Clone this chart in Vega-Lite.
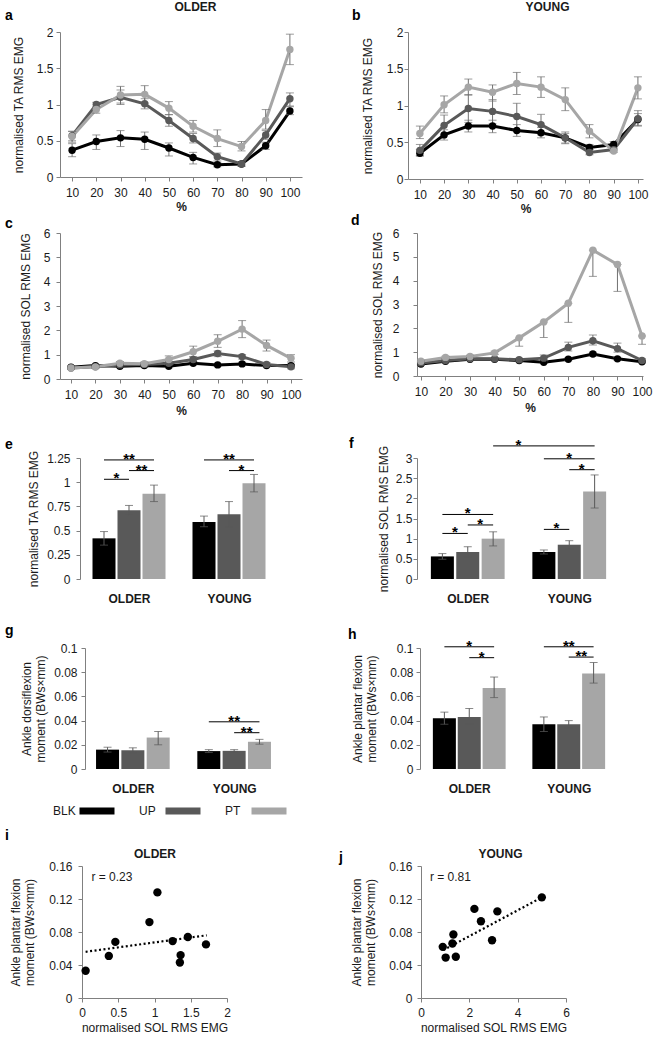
{
  "$schema": "https://vega.github.io/schema/vega-lite/v6.json",
  "padding": {"left": 4, "top": 0, "right": 2, "bottom": 2},
  "config": {
    "view": {"stroke": null},
    "font": "Liberation Sans",
    "axis": {"labelFont": "Liberation Sans", "labelFontSize": 12, "labelColor": "#1a1a1a", "titleFont": "Liberation Sans", "titleFontSize": 12, "titleFontWeight": "normal", "titleColor": "#1a1a1a", "domainColor": "#808080", "tickColor": "#808080", "tickSize": 4, "grid": false, "labelFlush": false, "labelOverlap": false, "titleLineHeight": 14},
    "title": {"font": "Liberation Sans", "fontSize": 14, "fontWeight": "bold", "anchor": "start", "frame": "group", "offset": 0, "baseline": "bottom", "color": "#000000"},
    "text": {"font": "Liberation Sans"}
  },
  "datasets": {
    "lineA": [
      {"pct": 10, "cond": "BLK", "v": 0.37, "lo": 0.28, "hi": 0.46},
      {"pct": 20, "cond": "BLK", "v": 0.49, "lo": 0.38, "hi": 0.58},
      {"pct": 30, "cond": "BLK", "v": 0.54, "lo": 0.42, "hi": 0.64},
      {"pct": 40, "cond": "BLK", "v": 0.52, "lo": 0.38, "hi": 0.62},
      {"pct": 50, "cond": "BLK", "v": 0.40, "lo": 0.29, "hi": 0.47},
      {"pct": 60, "cond": "BLK", "v": 0.27, "lo": 0.18, "hi": 0.34},
      {"pct": 70, "cond": "BLK", "v": 0.17, "lo": 0.14, "hi": 0.20},
      {"pct": 80, "cond": "BLK", "v": 0.18, "lo": 0.15, "hi": 0.20},
      {"pct": 90, "cond": "BLK", "v": 0.43, "lo": 0.38, "hi": 0.48},
      {"pct": 100, "cond": "BLK", "v": 0.91, "lo": 0.86, "hi": 0.97},
      {"pct": 10, "cond": "UP", "v": 0.57, "lo": 0.50, "hi": 0.63},
      {"pct": 20, "cond": "UP", "v": 1.00, "lo": 0.96, "hi": 1.03},
      {"pct": 30, "cond": "UP", "v": 1.10, "lo": 1.00, "hi": 1.20},
      {"pct": 40, "cond": "UP", "v": 1.01, "lo": 0.94, "hi": 1.08},
      {"pct": 50, "cond": "UP", "v": 0.78, "lo": 0.70, "hi": 0.86},
      {"pct": 60, "cond": "UP", "v": 0.53, "lo": 0.47, "hi": 0.60},
      {"pct": 70, "cond": "UP", "v": 0.28, "lo": 0.22, "hi": 0.33},
      {"pct": 80, "cond": "UP", "v": 0.18, "lo": 0.15, "hi": 0.21},
      {"pct": 90, "cond": "UP", "v": 0.58, "lo": 0.52, "hi": 0.64},
      {"pct": 100, "cond": "UP", "v": 1.08, "lo": 0.98, "hi": 1.16},
      {"pct": 10, "cond": "PT", "v": 0.56, "lo": 0.48, "hi": 0.63},
      {"pct": 20, "cond": "PT", "v": 0.93, "lo": 0.88, "hi": 0.97},
      {"pct": 30, "cond": "PT", "v": 1.13, "lo": 1.02, "hi": 1.25},
      {"pct": 40, "cond": "PT", "v": 1.14, "lo": 1.02, "hi": 1.26},
      {"pct": 50, "cond": "PT", "v": 0.95, "lo": 0.86, "hi": 1.04},
      {"pct": 60, "cond": "PT", "v": 0.70, "lo": 0.62, "hi": 0.78},
      {"pct": 70, "cond": "PT", "v": 0.53, "lo": 0.42, "hi": 0.65},
      {"pct": 80, "cond": "PT", "v": 0.42, "lo": 0.36, "hi": 0.49},
      {"pct": 90, "cond": "PT", "v": 0.78, "lo": 0.66, "hi": 0.93},
      {"pct": 100, "cond": "PT", "v": 1.76, "lo": 1.55, "hi": 1.97}
    ],
    "lineB": [
      {"pct": 10, "cond": "BLK", "v": 0.35, "lo": 0.31, "hi": 0.40},
      {"pct": 20, "cond": "BLK", "v": 0.60, "lo": 0.53, "hi": 0.67},
      {"pct": 30, "cond": "BLK", "v": 0.72, "lo": 0.64, "hi": 0.80},
      {"pct": 40, "cond": "BLK", "v": 0.72, "lo": 0.63, "hi": 0.80},
      {"pct": 50, "cond": "BLK", "v": 0.66, "lo": 0.58, "hi": 0.74},
      {"pct": 60, "cond": "BLK", "v": 0.63, "lo": 0.56, "hi": 0.70},
      {"pct": 70, "cond": "BLK", "v": 0.56, "lo": 0.49, "hi": 0.62},
      {"pct": 80, "cond": "BLK", "v": 0.43, "lo": 0.40, "hi": 0.47},
      {"pct": 90, "cond": "BLK", "v": 0.47, "lo": 0.44, "hi": 0.51},
      {"pct": 100, "cond": "BLK", "v": 0.81, "lo": 0.73, "hi": 0.89},
      {"pct": 10, "cond": "UP", "v": 0.39, "lo": 0.32, "hi": 0.47},
      {"pct": 20, "cond": "UP", "v": 0.73, "lo": 0.60, "hi": 0.87},
      {"pct": 30, "cond": "UP", "v": 0.96, "lo": 0.77, "hi": 1.15},
      {"pct": 40, "cond": "UP", "v": 0.92, "lo": 0.75, "hi": 1.08},
      {"pct": 50, "cond": "UP", "v": 0.85, "lo": 0.67, "hi": 1.03},
      {"pct": 60, "cond": "UP", "v": 0.74, "lo": 0.60, "hi": 0.88},
      {"pct": 70, "cond": "UP", "v": 0.56, "lo": 0.48, "hi": 0.64},
      {"pct": 80, "cond": "UP", "v": 0.36, "lo": 0.33, "hi": 0.40},
      {"pct": 90, "cond": "UP", "v": 0.40, "lo": 0.38, "hi": 0.44},
      {"pct": 100, "cond": "UP", "v": 0.82, "lo": 0.72, "hi": 0.93},
      {"pct": 10, "cond": "PT", "v": 0.62, "lo": 0.55, "hi": 0.72},
      {"pct": 20, "cond": "PT", "v": 1.01, "lo": 0.90, "hi": 1.13},
      {"pct": 30, "cond": "PT", "v": 1.25, "lo": 1.14, "hi": 1.36},
      {"pct": 40, "cond": "PT", "v": 1.18, "lo": 1.06, "hi": 1.28},
      {"pct": 50, "cond": "PT", "v": 1.30, "lo": 1.15, "hi": 1.45},
      {"pct": 60, "cond": "PT", "v": 1.25, "lo": 1.11, "hi": 1.39},
      {"pct": 70, "cond": "PT", "v": 1.08, "lo": 0.93, "hi": 1.24},
      {"pct": 80, "cond": "PT", "v": 0.65, "lo": 0.56, "hi": 0.74},
      {"pct": 90, "cond": "PT", "v": 0.38, "lo": 0.36, "hi": 0.41},
      {"pct": 100, "cond": "PT", "v": 1.24, "lo": 1.09, "hi": 1.39}
    ],
    "lineC": [
      {"pct": 10, "cond": "BLK", "v": 0.48, "lo": 0.44, "hi": 0.52},
      {"pct": 20, "cond": "BLK", "v": 0.55, "lo": 0.50, "hi": 0.60},
      {"pct": 30, "cond": "BLK", "v": 0.52, "lo": 0.47, "hi": 0.57},
      {"pct": 40, "cond": "BLK", "v": 0.55, "lo": 0.50, "hi": 0.60},
      {"pct": 50, "cond": "BLK", "v": 0.52, "lo": 0.46, "hi": 0.58},
      {"pct": 60, "cond": "BLK", "v": 0.65, "lo": 0.58, "hi": 0.72},
      {"pct": 70, "cond": "BLK", "v": 0.58, "lo": 0.52, "hi": 0.64},
      {"pct": 80, "cond": "BLK", "v": 0.62, "lo": 0.55, "hi": 0.69},
      {"pct": 90, "cond": "BLK", "v": 0.55, "lo": 0.50, "hi": 0.60},
      {"pct": 100, "cond": "BLK", "v": 0.55, "lo": 0.49, "hi": 0.61},
      {"pct": 10, "cond": "UP", "v": 0.45, "lo": 0.41, "hi": 0.49},
      {"pct": 20, "cond": "UP", "v": 0.50, "lo": 0.45, "hi": 0.55},
      {"pct": 30, "cond": "UP", "v": 0.58, "lo": 0.52, "hi": 0.64},
      {"pct": 40, "cond": "UP", "v": 0.60, "lo": 0.54, "hi": 0.66},
      {"pct": 50, "cond": "UP", "v": 0.65, "lo": 0.57, "hi": 0.73},
      {"pct": 60, "cond": "UP", "v": 0.80, "lo": 0.70, "hi": 0.90},
      {"pct": 70, "cond": "UP", "v": 1.05, "lo": 0.92, "hi": 1.15},
      {"pct": 80, "cond": "UP", "v": 0.92, "lo": 0.82, "hi": 1.00},
      {"pct": 90, "cond": "UP", "v": 0.60, "lo": 0.52, "hi": 0.68},
      {"pct": 100, "cond": "UP", "v": 0.50, "lo": 0.42, "hi": 0.58},
      {"pct": 10, "cond": "PT", "v": 0.45, "lo": 0.40, "hi": 0.50},
      {"pct": 20, "cond": "PT", "v": 0.50, "lo": 0.44, "hi": 0.56},
      {"pct": 30, "cond": "PT", "v": 0.65, "lo": 0.58, "hi": 0.72},
      {"pct": 40, "cond": "PT", "v": 0.63, "lo": 0.56, "hi": 0.70},
      {"pct": 50, "cond": "PT", "v": 0.80, "lo": 0.68, "hi": 0.95},
      {"pct": 60, "cond": "PT", "v": 1.12, "lo": 0.92, "hi": 1.35},
      {"pct": 70, "cond": "PT", "v": 1.55, "lo": 1.30, "hi": 1.82},
      {"pct": 80, "cond": "PT", "v": 2.05, "lo": 1.70, "hi": 2.40},
      {"pct": 90, "cond": "PT", "v": 1.38, "lo": 1.15, "hi": 1.60},
      {"pct": 100, "cond": "PT", "v": 0.85, "lo": 0.70, "hi": 1.00}
    ],
    "lineD": [
      {"pct": 10, "cond": "BLK", "v": 0.50, "lo": 0.46, "hi": 0.54},
      {"pct": 20, "cond": "BLK", "v": 0.62, "lo": 0.58, "hi": 0.66},
      {"pct": 30, "cond": "BLK", "v": 0.70, "lo": 0.66, "hi": 0.74},
      {"pct": 40, "cond": "BLK", "v": 0.70, "lo": 0.66, "hi": 0.74},
      {"pct": 50, "cond": "BLK", "v": 0.65, "lo": 0.60, "hi": 0.70},
      {"pct": 60, "cond": "BLK", "v": 0.58, "lo": 0.53, "hi": 0.63},
      {"pct": 70, "cond": "BLK", "v": 0.70, "lo": 0.64, "hi": 0.76},
      {"pct": 80, "cond": "BLK", "v": 0.92, "lo": 0.84, "hi": 1.00},
      {"pct": 90, "cond": "BLK", "v": 0.72, "lo": 0.66, "hi": 0.78},
      {"pct": 100, "cond": "BLK", "v": 0.60, "lo": 0.55, "hi": 0.65},
      {"pct": 10, "cond": "UP", "v": 0.55, "lo": 0.50, "hi": 0.60},
      {"pct": 20, "cond": "UP", "v": 0.65, "lo": 0.60, "hi": 0.70},
      {"pct": 30, "cond": "UP", "v": 0.72, "lo": 0.67, "hi": 0.77},
      {"pct": 40, "cond": "UP", "v": 0.72, "lo": 0.67, "hi": 0.77},
      {"pct": 50, "cond": "UP", "v": 0.68, "lo": 0.62, "hi": 0.74},
      {"pct": 60, "cond": "UP", "v": 0.75, "lo": 0.70, "hi": 0.88},
      {"pct": 70, "cond": "UP", "v": 1.20, "lo": 1.05, "hi": 1.42},
      {"pct": 80, "cond": "UP", "v": 1.48, "lo": 1.30, "hi": 1.72},
      {"pct": 90, "cond": "UP", "v": 1.15, "lo": 1.00, "hi": 1.38},
      {"pct": 100, "cond": "UP", "v": 0.65, "lo": 0.60, "hi": 0.72},
      {"pct": 10, "cond": "PT", "v": 0.62, "lo": 0.58, "hi": 0.66},
      {"pct": 20, "cond": "PT", "v": 0.78, "lo": 0.73, "hi": 0.83},
      {"pct": 30, "cond": "PT", "v": 0.82, "lo": 0.77, "hi": 0.87},
      {"pct": 40, "cond": "PT", "v": 0.97, "lo": 0.90, "hi": 1.04},
      {"pct": 50, "cond": "PT", "v": 1.60, "lo": 1.25, "hi": 1.60},
      {"pct": 60, "cond": "PT", "v": 2.27, "lo": 1.62, "hi": 2.27},
      {"pct": 70, "cond": "PT", "v": 3.05, "lo": 2.25, "hi": 3.05},
      {"pct": 80, "cond": "PT", "v": 5.28, "lo": 4.18, "hi": 5.28},
      {"pct": 90, "cond": "PT", "v": 4.68, "lo": 3.55, "hi": 4.68},
      {"pct": 100, "cond": "PT", "v": 1.68, "lo": 1.33, "hi": 1.68}
    ],
    "barE": [
      {"bar": "OLDER BLK", "cond": "BLK", "v": 0.42, "lo": 0.35, "hi": 0.49},
      {"bar": "OLDER UP", "cond": "UP", "v": 0.71, "lo": 0.66, "hi": 0.76},
      {"bar": "OLDER PT", "cond": "PT", "v": 0.88, "lo": 0.80, "hi": 0.97},
      {"bar": "YOUNG BLK", "cond": "BLK", "v": 0.59, "lo": 0.54, "hi": 0.65},
      {"bar": "YOUNG UP", "cond": "UP", "v": 0.67, "lo": 0.54, "hi": 0.80},
      {"bar": "YOUNG PT", "cond": "PT", "v": 0.99, "lo": 0.90, "hi": 1.08}
    ],
    "barF": [
      {"bar": "OLDER BLK", "cond": "BLK", "v": 0.56, "lo": 0.49, "hi": 0.63},
      {"bar": "OLDER UP", "cond": "UP", "v": 0.67, "lo": 0.55, "hi": 0.80},
      {"bar": "OLDER PT", "cond": "PT", "v": 1.00, "lo": 0.82, "hi": 1.17},
      {"bar": "YOUNG BLK", "cond": "BLK", "v": 0.67, "lo": 0.62, "hi": 0.72},
      {"bar": "YOUNG UP", "cond": "UP", "v": 0.85, "lo": 0.75, "hi": 0.95},
      {"bar": "YOUNG PT", "cond": "PT", "v": 2.17, "lo": 1.76, "hi": 2.58}
    ],
    "barG": [
      {"bar": "OLDER BLK", "cond": "BLK", "v": 0.016, "lo": 0.014, "hi": 0.018},
      {"bar": "OLDER UP", "cond": "UP", "v": 0.0155, "lo": 0.0135, "hi": 0.0175},
      {"bar": "OLDER PT", "cond": "PT", "v": 0.026, "lo": 0.020, "hi": 0.031},
      {"bar": "YOUNG BLK", "cond": "BLK", "v": 0.0148, "lo": 0.0136, "hi": 0.016},
      {"bar": "YOUNG UP", "cond": "UP", "v": 0.015, "lo": 0.014, "hi": 0.016},
      {"bar": "YOUNG PT", "cond": "PT", "v": 0.0225, "lo": 0.0205, "hi": 0.0245}
    ],
    "barH": [
      {"bar": "OLDER BLK", "cond": "BLK", "v": 0.042, "lo": 0.037, "hi": 0.047},
      {"bar": "OLDER UP", "cond": "UP", "v": 0.043, "lo": 0.037, "hi": 0.050},
      {"bar": "OLDER PT", "cond": "PT", "v": 0.067, "lo": 0.059, "hi": 0.076},
      {"bar": "YOUNG BLK", "cond": "BLK", "v": 0.037, "lo": 0.031, "hi": 0.043},
      {"bar": "YOUNG UP", "cond": "UP", "v": 0.037, "lo": 0.034, "hi": 0.040},
      {"bar": "YOUNG PT", "cond": "PT", "v": 0.079, "lo": 0.071, "hi": 0.088}
    ],
    "sigE": [
      {"from": "OLDER BLK", "to": "OLDER PT", "mid": "OLDER UP", "y": 1.23, "label": "**"},
      {"from": "OLDER UP", "to": "OLDER PT", "y": 1.12, "label": "**"},
      {"from": "OLDER BLK", "to": "OLDER UP", "y": 1.03, "label": "*"},
      {"from": "YOUNG BLK", "to": "YOUNG PT", "mid": "YOUNG UP", "y": 1.23, "label": "**"},
      {"from": "YOUNG UP", "to": "YOUNG PT", "y": 1.12, "label": "*"}
    ],
    "sigF": [
      {"from": "OLDER BLK", "to": "OLDER PT", "mid": "OLDER UP", "y": 1.6, "label": "*"},
      {"from": "OLDER UP", "to": "OLDER PT", "y": 1.34, "label": "*"},
      {"from": "OLDER BLK", "to": "OLDER UP", "y": 1.13, "label": "*"},
      {"from": "YOUNG BLK", "to": "YOUNG UP", "y": 1.23, "label": "*"},
      {"from": "YOUNG UP", "to": "YOUNG PT", "y": 2.71, "label": "*"},
      {"from": "YOUNG BLK", "to": "YOUNG PT", "mid": "YOUNG UP", "y": 2.98, "label": "*"},
      {"from": "OLDER PT", "to": "YOUNG PT", "mid": "gap", "y": 3.3, "label": "*"}
    ],
    "sigG": [
      {"from": "YOUNG BLK", "to": "YOUNG PT", "mid": "YOUNG UP", "y": 0.039, "label": "**"},
      {"from": "YOUNG UP", "to": "YOUNG PT", "y": 0.030, "label": "**"}
    ],
    "sigH": [
      {"from": "OLDER BLK", "to": "OLDER PT", "mid": "OLDER UP", "y": 0.101, "label": "*"},
      {"from": "OLDER UP", "to": "OLDER PT", "y": 0.092, "label": "*"},
      {"from": "YOUNG BLK", "to": "YOUNG PT", "mid": "YOUNG UP", "y": 0.101, "label": "**"},
      {"from": "YOUNG UP", "to": "YOUNG PT", "y": 0.0925, "label": "**"}
    ],
    "scatI": [
      {"x": 0.05, "y": 0.033}, {"x": 0.37, "y": 0.051}, {"x": 0.46, "y": 0.068},
      {"x": 0.93, "y": 0.092}, {"x": 1.04, "y": 0.128}, {"x": 1.25, "y": 0.069},
      {"x": 1.36, "y": 0.052}, {"x": 1.35, "y": 0.043}, {"x": 1.46, "y": 0.074},
      {"x": 1.71, "y": 0.065}
    ],
    "trendI": [{"x": 0.05, "y": 0.056}, {"x": 1.72, "y": 0.076}],
    "rI": [{"x": 0.13, "y": 0.147, "label": "r = 0.23"}],
    "scatJ": [
      {"x": 0.90, "y": 0.062}, {"x": 1.02, "y": 0.049}, {"x": 1.30, "y": 0.066},
      {"x": 1.34, "y": 0.077}, {"x": 1.44, "y": 0.050}, {"x": 2.21, "y": 0.108},
      {"x": 2.48, "y": 0.093}, {"x": 2.94, "y": 0.070}, {"x": 3.16, "y": 0.105},
      {"x": 5.00, "y": 0.122}
    ],
    "trendJ": [{"x": 0.92, "y": 0.058}, {"x": 5.0, "y": 0.122}],
    "rJ": [{"x": 0.37, "y": 0.147, "label": "r = 0.81"}],
    "legend": [{"cond": "BLK"}, {"cond": "UP"}, {"cond": "PT"}],
    "none": []
  },
  "columns": 1,
  "align": "none",
  "spacing": 20,
  "concat": [
    {
      "columns": 1,
      "align": "none",
      "spacing": 0,
      "concat": [
        {
          "spacing": 0,
          "hconcat": [
            {"width": 1, "height": 1, "data": {"name": "none"}, "mark": "point"},
            {
              "width": 242, "height": 145,
              "title": {"text": "a", "dx": -55, "dy": 27},
              "data": {"name": "lineA"},
              "resolve": {"axis": {"x": "independent", "y": "independent"}},
              "layer": [
                {"mark": {"type": "line", "strokeWidth": 3},
                 "encoding": {
                   "x": {"field": "pct", "type": "ordinal", "scale": {"type": "point", "padding": 0.5}, "axis": {"title": "%", "titleFontWeight": "bold", "labelAngle": 0, "labelPadding": 6, "titlePadding": 3}},
                   "y": {"field": "v", "type": "quantitative", "scale": {"domain": [0, 2], "nice": false}, "axis": {"title": "normalised TA RMS EMG", "values": [0, 0.5, 1, 1.5, 2], "format": ".2~f", "labelPadding": 3, "titlePadding": 11}},
                   "color": {"field": "cond", "type": "nominal", "scale": {"domain": ["BLK", "UP", "PT"], "range": ["#000000", "#595959", "#a6a6a6"]}, "legend": null}
                 }},
                {"mark": {"type": "rule", "color": "#707070"},
                 "encoding": {
                   "x": {"field": "pct", "type": "ordinal", "scale": {"type": "point", "padding": 0.5}, "axis": null},
                   "y": {"field": "lo", "type": "quantitative", "scale": {"domain": [0, 2], "nice": false}, "axis": null},
                   "y2": {"field": "hi"}
                 }},
                {"mark": {"type": "tick", "orient": "horizontal", "size": 8, "thickness": 1, "color": "#707070"},
                 "encoding": {
                   "x": {"field": "pct", "type": "ordinal", "scale": {"type": "point", "padding": 0.5}, "axis": null},
                   "y": {"field": "lo", "type": "quantitative", "scale": {"domain": [0, 2], "nice": false}, "axis": null}
                 }},
                {"mark": {"type": "tick", "orient": "horizontal", "size": 8, "thickness": 1, "color": "#707070"},
                 "encoding": {
                   "x": {"field": "pct", "type": "ordinal", "scale": {"type": "point", "padding": 0.5}, "axis": null},
                   "y": {"field": "hi", "type": "quantitative", "scale": {"domain": [0, 2], "nice": false}, "axis": null}
                 }},
                {"mark": {"type": "circle", "size": 55, "opacity": 1},
                 "encoding": {
                   "x": {"field": "pct", "type": "ordinal", "scale": {"type": "point", "padding": 0.5}, "axis": {"orient": "top", "title": "OLDER", "titleFontWeight": "bold", "domain": false, "ticks": false, "labels": false, "titlePadding": 19, "titleX": 135}},
                   "y": {"field": "v", "type": "quantitative", "scale": {"domain": [0, 2], "nice": false}, "axis": null},
                   "color": {"field": "cond", "type": "nominal", "scale": {"domain": ["BLK", "UP", "PT"], "range": ["#000000", "#595959", "#a6a6a6"]}, "legend": null}
                 }}
              ]
            },
            {"width": 50, "height": 1, "data": {"name": "none"}, "mark": "point"},
            {
              "width": 235, "height": 147,
              "title": {"text": "b", "dx": -56, "dy": 27},
              "data": {"name": "lineB"},
              "resolve": {"axis": {"x": "independent", "y": "independent"}},
              "layer": [
                {"mark": {"type": "line", "strokeWidth": 3},
                 "encoding": {
                   "x": {"field": "pct", "type": "ordinal", "scale": {"type": "point", "padding": 0.35, "align": 0.7}, "axis": {"title": "%", "titleFontWeight": "bold", "labelAngle": 0, "labelPadding": 6, "titlePadding": 3}},
                   "y": {"field": "v", "type": "quantitative", "scale": {"domain": [0, 2], "nice": false}, "axis": {"title": "normalised TA RMS EMG", "values": [0, 0.5, 1, 1.5, 2], "format": ".2~f", "labelPadding": 1, "titlePadding": 12}},
                   "color": {"field": "cond", "type": "nominal", "scale": {"domain": ["BLK", "UP", "PT"], "range": ["#000000", "#595959", "#a6a6a6"]}, "legend": null}
                 }},
                {"mark": {"type": "rule", "color": "#707070"},
                 "encoding": {
                   "x": {"field": "pct", "type": "ordinal", "scale": {"type": "point", "padding": 0.35, "align": 0.7}, "axis": null},
                   "y": {"field": "lo", "type": "quantitative", "scale": {"domain": [0, 2], "nice": false}, "axis": null},
                   "y2": {"field": "hi"}
                 }},
                {"mark": {"type": "tick", "orient": "horizontal", "size": 8, "thickness": 1, "color": "#707070"},
                 "encoding": {
                   "x": {"field": "pct", "type": "ordinal", "scale": {"type": "point", "padding": 0.35, "align": 0.7}, "axis": null},
                   "y": {"field": "lo", "type": "quantitative", "scale": {"domain": [0, 2], "nice": false}, "axis": null}
                 }},
                {"mark": {"type": "tick", "orient": "horizontal", "size": 8, "thickness": 1, "color": "#707070"},
                 "encoding": {
                   "x": {"field": "pct", "type": "ordinal", "scale": {"type": "point", "padding": 0.35, "align": 0.7}, "axis": null},
                   "y": {"field": "hi", "type": "quantitative", "scale": {"domain": [0, 2], "nice": false}, "axis": null}
                 }},
                {"mark": {"type": "circle", "size": 55, "opacity": 1},
                 "encoding": {
                   "x": {"field": "pct", "type": "ordinal", "scale": {"type": "point", "padding": 0.35, "align": 0.7}, "axis": {"orient": "top", "title": "YOUNG", "titleFontWeight": "bold", "domain": false, "ticks": false, "labels": false, "titlePadding": 19, "titleX": 139}},
                   "y": {"field": "v", "type": "quantitative", "scale": {"domain": [0, 2], "nice": false}, "axis": null},
                   "color": {"field": "cond", "type": "nominal", "scale": {"domain": ["BLK", "UP", "PT"], "range": ["#000000", "#595959", "#a6a6a6"]}, "legend": null}
                 }}
              ]
            }
          ]
        },
        {
          "spacing": 0,
          "hconcat": [
            {"width": 1, "height": 1, "data": {"name": "none"}, "mark": "point"},
            {
              "width": 242, "height": 146,
              "title": {"text": "c", "dx": -55, "dy": 8},
              "data": {"name": "lineC"},
              "resolve": {"axis": {"x": "independent", "y": "independent"}},
              "layer": [
                {"mark": {"type": "line", "strokeWidth": 3},
                 "encoding": {
                   "x": {"field": "pct", "type": "ordinal", "scale": {"type": "point", "padding": 0.45}, "axis": {"title": "%", "titleFontWeight": "bold", "labelAngle": 0, "labelPadding": 6, "titlePadding": 5}},
                   "y": {"field": "v", "type": "quantitative", "scale": {"domain": [0, 6], "nice": false}, "axis": {"title": "normalised SOL RMS EMG", "values": [0, 1, 2, 3, 4, 5, 6], "format": ".2~f", "labelPadding": 6, "titlePadding": 11}},
                   "color": {"field": "cond", "type": "nominal", "scale": {"domain": ["BLK", "UP", "PT"], "range": ["#000000", "#595959", "#a6a6a6"]}, "legend": null}
                 }},
                {"mark": {"type": "rule", "color": "#707070"},
                 "encoding": {
                   "x": {"field": "pct", "type": "ordinal", "scale": {"type": "point", "padding": 0.45}, "axis": null},
                   "y": {"field": "lo", "type": "quantitative", "scale": {"domain": [0, 6], "nice": false}, "axis": null},
                   "y2": {"field": "hi"}
                 }},
                {"mark": {"type": "tick", "orient": "horizontal", "size": 8, "thickness": 1, "color": "#707070"},
                 "encoding": {
                   "x": {"field": "pct", "type": "ordinal", "scale": {"type": "point", "padding": 0.45}, "axis": null},
                   "y": {"field": "lo", "type": "quantitative", "scale": {"domain": [0, 6], "nice": false}, "axis": null}
                 }},
                {"mark": {"type": "tick", "orient": "horizontal", "size": 8, "thickness": 1, "color": "#707070"},
                 "encoding": {
                   "x": {"field": "pct", "type": "ordinal", "scale": {"type": "point", "padding": 0.45}, "axis": null},
                   "y": {"field": "hi", "type": "quantitative", "scale": {"domain": [0, 6], "nice": false}, "axis": null}
                 }},
                {"mark": {"type": "circle", "size": 55, "opacity": 1},
                 "encoding": {
                   "x": {"field": "pct", "type": "ordinal", "scale": {"type": "point", "padding": 0.45}, "axis": null},
                   "y": {"field": "v", "type": "quantitative", "scale": {"domain": [0, 6], "nice": false}, "axis": null},
                   "color": {"field": "cond", "type": "nominal", "scale": {"domain": ["BLK", "UP", "PT"], "range": ["#000000", "#595959", "#a6a6a6"]}, "legend": null}
                 }}
              ]
            },
            {"width": 49, "height": 1, "data": {"name": "none"}, "mark": "point"},
            {
              "width": 226, "height": 143,
              "title": {"text": "d", "dx": -66, "dy": 5},
              "data": {"name": "lineD"},
              "resolve": {"axis": {"x": "independent", "y": "independent"}},
              "layer": [
                {"mark": {"type": "line", "strokeWidth": 3},
                 "encoding": {
                   "x": {"field": "pct", "type": "ordinal", "scale": {"type": "point", "padding": 0.1, "align": 0.8}, "axis": {"title": "%", "titleFontWeight": "bold", "labelAngle": 0, "labelPadding": 6, "titlePadding": 5}},
                   "y": {"field": "v", "type": "quantitative", "scale": {"domain": [0, 6], "nice": false}, "axis": {"title": "normalised SOL RMS EMG", "values": [0, 1, 2, 3, 4, 5, 6], "format": ".2~f", "labelPadding": 14, "titlePadding": 8}},
                   "color": {"field": "cond", "type": "nominal", "scale": {"domain": ["BLK", "UP", "PT"], "range": ["#000000", "#595959", "#a6a6a6"]}, "legend": null}
                 }},
                {"mark": {"type": "rule", "color": "#707070"},
                 "encoding": {
                   "x": {"field": "pct", "type": "ordinal", "scale": {"type": "point", "padding": 0.1, "align": 0.8}, "axis": null},
                   "y": {"field": "lo", "type": "quantitative", "scale": {"domain": [0, 6], "nice": false}, "axis": null},
                   "y2": {"field": "hi"}
                 }},
                {"mark": {"type": "tick", "orient": "horizontal", "size": 8, "thickness": 1, "color": "#707070"},
                 "encoding": {
                   "x": {"field": "pct", "type": "ordinal", "scale": {"type": "point", "padding": 0.1, "align": 0.8}, "axis": null},
                   "y": {"field": "lo", "type": "quantitative", "scale": {"domain": [0, 6], "nice": false}, "axis": null}
                 }},
                {"mark": {"type": "tick", "orient": "horizontal", "size": 8, "thickness": 1, "color": "#707070"},
                 "encoding": {
                   "x": {"field": "pct", "type": "ordinal", "scale": {"type": "point", "padding": 0.1, "align": 0.8}, "axis": null},
                   "y": {"field": "hi", "type": "quantitative", "scale": {"domain": [0, 6], "nice": false}, "axis": null}
                 }},
                {"mark": {"type": "circle", "size": 55, "opacity": 1},
                 "encoding": {
                   "x": {"field": "pct", "type": "ordinal", "scale": {"type": "point", "padding": 0.1, "align": 0.8}, "axis": null},
                   "y": {"field": "v", "type": "quantitative", "scale": {"domain": [0, 6], "nice": false}, "axis": null},
                   "color": {"field": "cond", "type": "nominal", "scale": {"domain": ["BLK", "UP", "PT"], "range": ["#000000", "#595959", "#a6a6a6"]}, "legend": null}
                 }}
              ]
            }
          ]
        }
      ]
    },
    {
      "spacing": 0,
      "hconcat": [
        {"width": 1, "height": 1, "data": {"name": "none"}, "mark": "point"},
        {
          "width": 198, "height": 121,
          "title": {"text": "e", "dx": -75, "dy": 6},
          "resolve": {"axis": {"x": "independent", "y": "independent"}},
          "layer": [
            {"data": {"name": "barE"}, "mark": {"type": "bar", "size": 23},
             "encoding": {
               "x": {"field": "bar", "type": "nominal", "scale": {"type": "point", "domain": ["OLDER BLK", "OLDER UP", "OLDER PT", "gap", "YOUNG BLK", "YOUNG UP", "YOUNG PT"], "padding": 0.96}, "axis": {"values": ["OLDER UP", "YOUNG UP"], "labelExpr": "split(datum.value, ' ')[0]", "title": null, "domain": false, "ticks": false, "labelFontWeight": "bold", "labelPadding": 14, "labelAngle": 0}},
               "y": {"field": "v", "type": "quantitative", "scale": {"domain": [0, 1.25], "nice": false}, "axis": {"title": "normalised TA RMS EMG", "values": [0, 0.25, 0.5, 0.75, 1, 1.25], "format": ".2~f", "labelPadding": 6, "titlePadding": 6}},
               "color": {"field": "cond", "type": "nominal", "scale": {"domain": ["BLK", "UP", "PT"], "range": ["#000000", "#595959", "#a6a6a6"]}, "legend": null}
             }},
            {"data": {"name": "barE"}, "mark": {"type": "rule", "color": "#595959"},
             "encoding": {
               "x": {"field": "bar", "type": "nominal", "scale": {"type": "point", "domain": ["OLDER BLK", "OLDER UP", "OLDER PT", "gap", "YOUNG BLK", "YOUNG UP", "YOUNG PT"], "padding": 0.96}, "axis": null},
               "y": {"field": "lo", "type": "quantitative", "scale": {"domain": [0, 1.25], "nice": false}, "axis": null},
               "y2": {"field": "hi"}
             }},
            {"data": {"name": "barE"}, "mark": {"type": "tick", "orient": "horizontal", "size": 8, "thickness": 1, "color": "#595959"},
             "encoding": {
               "x": {"field": "bar", "type": "nominal", "scale": {"type": "point", "domain": ["OLDER BLK", "OLDER UP", "OLDER PT", "gap", "YOUNG BLK", "YOUNG UP", "YOUNG PT"], "padding": 0.96}, "axis": null},
               "y": {"field": "lo", "type": "quantitative", "scale": {"domain": [0, 1.25], "nice": false}, "axis": null}
             }},
            {"data": {"name": "barE"}, "mark": {"type": "tick", "orient": "horizontal", "size": 8, "thickness": 1, "color": "#595959"},
             "encoding": {
               "x": {"field": "bar", "type": "nominal", "scale": {"type": "point", "domain": ["OLDER BLK", "OLDER UP", "OLDER PT", "gap", "YOUNG BLK", "YOUNG UP", "YOUNG PT"], "padding": 0.96}, "axis": null},
               "y": {"field": "hi", "type": "quantitative", "scale": {"domain": [0, 1.25], "nice": false}, "axis": null}
             }},
            {"data": {"name": "sigE"}, "mark": {"type": "rule", "color": "#000000", "strokeWidth": 1},
             "encoding": {
               "x": {"field": "from", "type": "nominal", "scale": {"type": "point", "domain": ["OLDER BLK", "OLDER UP", "OLDER PT", "gap", "YOUNG BLK", "YOUNG UP", "YOUNG PT"], "padding": 0.96}, "axis": null},
               "x2": {"field": "to"},
               "y": {"field": "y", "type": "quantitative", "scale": {"domain": [0, 1.25], "nice": false}, "axis": null}
             }},
            {"data": {"name": "sigE"}, "transform": [{"filter": "isValid(datum.mid)"}],
             "mark": {"type": "text", "fontSize": 15, "fontWeight": "bold", "baseline": "alphabetic", "dy": 4},
             "encoding": {
               "x": {"field": "mid", "type": "nominal", "scale": {"type": "point", "domain": ["OLDER BLK", "OLDER UP", "OLDER PT", "gap", "YOUNG BLK", "YOUNG UP", "YOUNG PT"], "padding": 0.96}, "axis": null},
               "y": {"field": "y", "type": "quantitative", "scale": {"domain": [0, 1.25], "nice": false}, "axis": null},
               "text": {"field": "label"}
             }},
            {"data": {"name": "sigE"}, "transform": [{"filter": "!isValid(datum.mid)"}],
             "mark": {"type": "text", "fontSize": 15, "fontWeight": "bold", "baseline": "alphabetic", "dy": 4, "dx": 12.5},
             "encoding": {
               "x": {"field": "from", "type": "nominal", "scale": {"type": "point", "domain": ["OLDER BLK", "OLDER UP", "OLDER PT", "gap", "YOUNG BLK", "YOUNG UP", "YOUNG PT"], "padding": 0.96}, "axis": null},
               "y": {"field": "y", "type": "quantitative", "scale": {"domain": [0, 1.25], "nice": false}, "axis": null},
               "text": {"field": "label"}
             }}
          ]
        },
        {"width": 71, "height": 1, "data": {"name": "none"}, "mark": "point"},
        {
          "width": 203, "height": 121,
          "title": {"text": "f", "dx": -68, "dy": 17},
          "resolve": {"axis": {"x": "independent", "y": "independent"}},
          "layer": [
            {"data": {"name": "barF"}, "mark": {"type": "bar", "size": 23},
             "encoding": {
               "x": {"field": "bar", "type": "nominal", "scale": {"type": "point", "domain": ["OLDER BLK", "OLDER UP", "OLDER PT", "gap", "YOUNG BLK", "YOUNG UP", "YOUNG PT"], "padding": 1.06}, "axis": {"values": ["OLDER UP", "YOUNG UP"], "labelExpr": "split(datum.value, ' ')[0]", "title": null, "domain": false, "ticks": false, "labelFontWeight": "bold", "labelPadding": 14, "labelAngle": 0}},
               "y": {"field": "v", "type": "quantitative", "scale": {"domain": [0, 3], "nice": false}, "axis": {"title": "normalised SOL RMS EMG", "values": [0, 0.5, 1, 1.5, 2, 2.5, 3], "format": ".2~f", "labelPadding": 1, "titlePadding": 5}},
               "color": {"field": "cond", "type": "nominal", "scale": {"domain": ["BLK", "UP", "PT"], "range": ["#000000", "#595959", "#a6a6a6"]}, "legend": null}
             }},
            {"data": {"name": "barF"}, "mark": {"type": "rule", "color": "#595959"},
             "encoding": {
               "x": {"field": "bar", "type": "nominal", "scale": {"type": "point", "domain": ["OLDER BLK", "OLDER UP", "OLDER PT", "gap", "YOUNG BLK", "YOUNG UP", "YOUNG PT"], "padding": 1.06}, "axis": null},
               "y": {"field": "lo", "type": "quantitative", "scale": {"domain": [0, 3], "nice": false}, "axis": null},
               "y2": {"field": "hi"}
             }},
            {"data": {"name": "barF"}, "mark": {"type": "tick", "orient": "horizontal", "size": 8, "thickness": 1, "color": "#595959"},
             "encoding": {
               "x": {"field": "bar", "type": "nominal", "scale": {"type": "point", "domain": ["OLDER BLK", "OLDER UP", "OLDER PT", "gap", "YOUNG BLK", "YOUNG UP", "YOUNG PT"], "padding": 1.06}, "axis": null},
               "y": {"field": "lo", "type": "quantitative", "scale": {"domain": [0, 3], "nice": false}, "axis": null}
             }},
            {"data": {"name": "barF"}, "mark": {"type": "tick", "orient": "horizontal", "size": 8, "thickness": 1, "color": "#595959"},
             "encoding": {
               "x": {"field": "bar", "type": "nominal", "scale": {"type": "point", "domain": ["OLDER BLK", "OLDER UP", "OLDER PT", "gap", "YOUNG BLK", "YOUNG UP", "YOUNG PT"], "padding": 1.06}, "axis": null},
               "y": {"field": "hi", "type": "quantitative", "scale": {"domain": [0, 3], "nice": false}, "axis": null}
             }},
            {"data": {"name": "sigF"}, "mark": {"type": "rule", "color": "#000000", "strokeWidth": 1},
             "encoding": {
               "x": {"field": "from", "type": "nominal", "scale": {"type": "point", "domain": ["OLDER BLK", "OLDER UP", "OLDER PT", "gap", "YOUNG BLK", "YOUNG UP", "YOUNG PT"], "padding": 1.06}, "axis": null},
               "x2": {"field": "to"},
               "y": {"field": "y", "type": "quantitative", "scale": {"domain": [0, 3], "nice": false}, "axis": null}
             }},
            {"data": {"name": "sigF"}, "transform": [{"filter": "isValid(datum.mid)"}],
             "mark": {"type": "text", "fontSize": 15, "fontWeight": "bold", "baseline": "alphabetic", "dy": 4},
             "encoding": {
               "x": {"field": "mid", "type": "nominal", "scale": {"type": "point", "domain": ["OLDER BLK", "OLDER UP", "OLDER PT", "gap", "YOUNG BLK", "YOUNG UP", "YOUNG PT"], "padding": 1.06}, "axis": null},
               "y": {"field": "y", "type": "quantitative", "scale": {"domain": [0, 3], "nice": false}, "axis": null},
               "text": {"field": "label"}
             }},
            {"data": {"name": "sigF"}, "transform": [{"filter": "!isValid(datum.mid)"}],
             "mark": {"type": "text", "fontSize": 15, "fontWeight": "bold", "baseline": "alphabetic", "dy": 4, "dx": 12.5},
             "encoding": {
               "x": {"field": "from", "type": "nominal", "scale": {"type": "point", "domain": ["OLDER BLK", "OLDER UP", "OLDER PT", "gap", "YOUNG BLK", "YOUNG UP", "YOUNG PT"], "padding": 1.06}, "axis": null},
               "y": {"field": "y", "type": "quantitative", "scale": {"domain": [0, 3], "nice": false}, "axis": null},
               "text": {"field": "label"}
             }}
          ]
        }
      ]
    },
    {
      "columns": 1,
      "align": "none",
      "spacing": 11,
      "concat": [
        {
          "spacing": 0,
          "hconcat": [
            {"width": 1, "height": 1, "data": {"name": "none"}, "mark": "point"},
            {
              "width": 197, "height": 121,
              "title": {"text": "g", "dx": -80, "dy": 0},
              "resolve": {"axis": {"x": "independent", "y": "independent"}},
              "layer": [
                {"data": {"name": "barG"}, "mark": {"type": "bar", "size": 23},
                 "encoding": {
                   "x": {"field": "bar", "type": "nominal", "scale": {"type": "point", "domain": ["OLDER BLK", "OLDER UP", "OLDER PT", "gap", "YOUNG BLK", "YOUNG UP", "YOUNG PT"], "padding": 0.89}, "axis": {"values": ["OLDER UP", "YOUNG UP"], "labelExpr": "split(datum.value, ' ')[0]", "title": null, "domain": false, "ticks": false, "labelFontWeight": "bold", "labelPadding": 14, "labelAngle": 0}},
                   "y": {"field": "v", "type": "quantitative", "scale": {"domain": [0, 0.1], "nice": false}, "axis": {"title": ["Ankle dorsiflexion", "moment (BWs×mm)"], "values": [0, 0.02, 0.04, 0.06, 0.08, 0.1], "format": ".2~f", "labelPadding": 4, "titlePadding": 6}},
                   "color": {"field": "cond", "type": "nominal", "scale": {"domain": ["BLK", "UP", "PT"], "range": ["#000000", "#595959", "#a6a6a6"]}, "legend": null}
                 }},
                {"data": {"name": "barG"}, "mark": {"type": "rule", "color": "#595959"},
                 "encoding": {
                   "x": {"field": "bar", "type": "nominal", "scale": {"type": "point", "domain": ["OLDER BLK", "OLDER UP", "OLDER PT", "gap", "YOUNG BLK", "YOUNG UP", "YOUNG PT"], "padding": 0.89}, "axis": null},
                   "y": {"field": "lo", "type": "quantitative", "scale": {"domain": [0, 0.1], "nice": false}, "axis": null},
                   "y2": {"field": "hi"}
                 }},
                {"data": {"name": "barG"}, "mark": {"type": "tick", "orient": "horizontal", "size": 8, "thickness": 1, "color": "#595959"},
                 "encoding": {
                   "x": {"field": "bar", "type": "nominal", "scale": {"type": "point", "domain": ["OLDER BLK", "OLDER UP", "OLDER PT", "gap", "YOUNG BLK", "YOUNG UP", "YOUNG PT"], "padding": 0.89}, "axis": null},
                   "y": {"field": "lo", "type": "quantitative", "scale": {"domain": [0, 0.1], "nice": false}, "axis": null}
                 }},
                {"data": {"name": "barG"}, "mark": {"type": "tick", "orient": "horizontal", "size": 8, "thickness": 1, "color": "#595959"},
                 "encoding": {
                   "x": {"field": "bar", "type": "nominal", "scale": {"type": "point", "domain": ["OLDER BLK", "OLDER UP", "OLDER PT", "gap", "YOUNG BLK", "YOUNG UP", "YOUNG PT"], "padding": 0.89}, "axis": null},
                   "y": {"field": "hi", "type": "quantitative", "scale": {"domain": [0, 0.1], "nice": false}, "axis": null}
                 }},
                {"data": {"name": "sigG"}, "mark": {"type": "rule", "color": "#000000", "strokeWidth": 1},
                 "encoding": {
                   "x": {"field": "from", "type": "nominal", "scale": {"type": "point", "domain": ["OLDER BLK", "OLDER UP", "OLDER PT", "gap", "YOUNG BLK", "YOUNG UP", "YOUNG PT"], "padding": 0.89}, "axis": null},
                   "x2": {"field": "to"},
                   "y": {"field": "y", "type": "quantitative", "scale": {"domain": [0, 0.1], "nice": false}, "axis": null}
                 }},
                {"data": {"name": "sigG"}, "transform": [{"filter": "isValid(datum.mid)"}],
                 "mark": {"type": "text", "fontSize": 15, "fontWeight": "bold", "baseline": "alphabetic", "dy": 4},
                 "encoding": {
                   "x": {"field": "mid", "type": "nominal", "scale": {"type": "point", "domain": ["OLDER BLK", "OLDER UP", "OLDER PT", "gap", "YOUNG BLK", "YOUNG UP", "YOUNG PT"], "padding": 0.89}, "axis": null},
                   "y": {"field": "y", "type": "quantitative", "scale": {"domain": [0, 0.1], "nice": false}, "axis": null},
                   "text": {"field": "label"}
                 }},
                {"data": {"name": "sigG"}, "transform": [{"filter": "!isValid(datum.mid)"}],
                 "mark": {"type": "text", "fontSize": 15, "fontWeight": "bold", "baseline": "alphabetic", "dy": 4, "dx": 12.5},
                 "encoding": {
                   "x": {"field": "from", "type": "nominal", "scale": {"type": "point", "domain": ["OLDER BLK", "OLDER UP", "OLDER PT", "gap", "YOUNG BLK", "YOUNG UP", "YOUNG PT"], "padding": 0.89}, "axis": null},
                   "y": {"field": "y", "type": "quantitative", "scale": {"domain": [0, 0.1], "nice": false}, "axis": null},
                   "text": {"field": "label"}
                 }}
              ]
            },
            {"width": 66, "height": 1, "data": {"name": "none"}, "mark": "point"},
            {
              "width": 198, "height": 121,
              "title": {"text": "h", "dx": -72, "dy": 7},
              "resolve": {"axis": {"x": "independent", "y": "independent"}},
              "layer": [
                {"data": {"name": "barH"}, "mark": {"type": "bar", "size": 23},
                 "encoding": {
                   "x": {"field": "bar", "type": "nominal", "scale": {"type": "point", "domain": ["OLDER BLK", "OLDER UP", "OLDER PT", "gap", "YOUNG BLK", "YOUNG UP", "YOUNG PT"], "padding": 0.98}, "axis": {"values": ["OLDER UP", "YOUNG UP"], "labelExpr": "split(datum.value, ' ')[0]", "title": null, "domain": false, "ticks": false, "labelFontWeight": "bold", "labelPadding": 14, "labelAngle": 0}},
                   "y": {"field": "v", "type": "quantitative", "scale": {"domain": [0, 0.1], "nice": false}, "axis": {"title": ["Ankle plantar flexion", "moment (BWs×mm)"], "values": [0, 0.02, 0.04, 0.06, 0.08, 0.1], "format": ".2~f", "labelPadding": 3, "titlePadding": 11}},
                   "color": {"field": "cond", "type": "nominal", "scale": {"domain": ["BLK", "UP", "PT"], "range": ["#000000", "#595959", "#a6a6a6"]}, "legend": null}
                 }},
                {"data": {"name": "barH"}, "mark": {"type": "rule", "color": "#595959"},
                 "encoding": {
                   "x": {"field": "bar", "type": "nominal", "scale": {"type": "point", "domain": ["OLDER BLK", "OLDER UP", "OLDER PT", "gap", "YOUNG BLK", "YOUNG UP", "YOUNG PT"], "padding": 0.98}, "axis": null},
                   "y": {"field": "lo", "type": "quantitative", "scale": {"domain": [0, 0.1], "nice": false}, "axis": null},
                   "y2": {"field": "hi"}
                 }},
                {"data": {"name": "barH"}, "mark": {"type": "tick", "orient": "horizontal", "size": 8, "thickness": 1, "color": "#595959"},
                 "encoding": {
                   "x": {"field": "bar", "type": "nominal", "scale": {"type": "point", "domain": ["OLDER BLK", "OLDER UP", "OLDER PT", "gap", "YOUNG BLK", "YOUNG UP", "YOUNG PT"], "padding": 0.98}, "axis": null},
                   "y": {"field": "lo", "type": "quantitative", "scale": {"domain": [0, 0.1], "nice": false}, "axis": null}
                 }},
                {"data": {"name": "barH"}, "mark": {"type": "tick", "orient": "horizontal", "size": 8, "thickness": 1, "color": "#595959"},
                 "encoding": {
                   "x": {"field": "bar", "type": "nominal", "scale": {"type": "point", "domain": ["OLDER BLK", "OLDER UP", "OLDER PT", "gap", "YOUNG BLK", "YOUNG UP", "YOUNG PT"], "padding": 0.98}, "axis": null},
                   "y": {"field": "hi", "type": "quantitative", "scale": {"domain": [0, 0.1], "nice": false}, "axis": null}
                 }},
                {"data": {"name": "sigH"}, "mark": {"type": "rule", "color": "#000000", "strokeWidth": 1},
                 "encoding": {
                   "x": {"field": "from", "type": "nominal", "scale": {"type": "point", "domain": ["OLDER BLK", "OLDER UP", "OLDER PT", "gap", "YOUNG BLK", "YOUNG UP", "YOUNG PT"], "padding": 0.98}, "axis": null},
                   "x2": {"field": "to"},
                   "y": {"field": "y", "type": "quantitative", "scale": {"domain": [0, 0.1], "nice": false}, "axis": null}
                 }},
                {"data": {"name": "sigH"}, "transform": [{"filter": "isValid(datum.mid)"}],
                 "mark": {"type": "text", "fontSize": 15, "fontWeight": "bold", "baseline": "alphabetic", "dy": 4},
                 "encoding": {
                   "x": {"field": "mid", "type": "nominal", "scale": {"type": "point", "domain": ["OLDER BLK", "OLDER UP", "OLDER PT", "gap", "YOUNG BLK", "YOUNG UP", "YOUNG PT"], "padding": 0.98}, "axis": null},
                   "y": {"field": "y", "type": "quantitative", "scale": {"domain": [0, 0.1], "nice": false}, "axis": null},
                   "text": {"field": "label"}
                 }},
                {"data": {"name": "sigH"}, "transform": [{"filter": "!isValid(datum.mid)"}],
                 "mark": {"type": "text", "fontSize": 15, "fontWeight": "bold", "baseline": "alphabetic", "dy": 4, "dx": 12.5},
                 "encoding": {
                   "x": {"field": "from", "type": "nominal", "scale": {"type": "point", "domain": ["OLDER BLK", "OLDER UP", "OLDER PT", "gap", "YOUNG BLK", "YOUNG UP", "YOUNG PT"], "padding": 0.98}, "axis": null},
                   "y": {"field": "y", "type": "quantitative", "scale": {"domain": [0, 0.1], "nice": false}, "axis": null},
                   "text": {"field": "label"}
                 }}
              ]
            }
          ]
        },
        {
          "columns": 1,
          "align": "none",
          "spacing": 12,
          "concat": [
            {
              "spacing": 0,
              "hconcat": [
                {"width": 1, "height": 1, "data": {"name": "none"}, "mark": "point"},
                {
                  "width": 268, "height": 10,
                  "data": {"name": "legend"},
                  "layer": [
                    {"mark": {"type": "text", "align": "left", "baseline": "middle", "fontSize": 12, "color": "#1a1a1a"},
                     "encoding": {
                       "x": {"field": "cond", "type": "nominal", "scale": {"type": "point", "domain": ["BLK", "UP", "PT"], "padding": 0.558}, "axis": null},
                       "text": {"field": "cond"}
                     }},
                    {"mark": {"type": "point", "shape": "M-1,-0.2H1V0.2H-1Z", "size": 1225, "filled": true, "opacity": 1, "xOffset": 44, "strokeWidth": 0},
                     "encoding": {
                       "x": {"field": "cond", "type": "nominal", "scale": {"type": "point", "domain": ["BLK", "UP", "PT"], "padding": 0.558}, "axis": null},
                       "color": {"field": "cond", "type": "nominal", "scale": {"domain": ["BLK", "UP", "PT"], "range": ["#000000", "#595959", "#a6a6a6"]}, "legend": null}
                     }}
                  ]
                }
              ]
            },
            {
              "spacing": 0,
              "hconcat": [
                {"width": 1, "height": 1, "data": {"name": "none"}, "mark": "point"},
                {
                  "width": 145, "height": 132,
                  "title": {"text": "i", "dx": -77, "dy": 0},
                  "resolve": {"axis": {"x": "independent", "y": "independent"}},
                  "layer": [
                    {"data": {"name": "trendI"}, "mark": {"type": "line", "strokeDash": [2, 2.5], "strokeWidth": 2.2, "color": "#000000"},
                     "encoding": {
                       "x": {"field": "x", "type": "quantitative", "scale": {"domain": [0, 2], "nice": false}, "axis": {"title": "normalised SOL RMS EMG", "values": [0, 0.5, 1, 1.5, 2], "format": ".2~f", "labelPadding": 5, "titlePadding": 4}},
                       "y": {"field": "y", "type": "quantitative", "scale": {"domain": [0, 0.16], "nice": false}, "axis": {"title": ["Ankle plantar flexion", "moment (BWs×mm)"], "values": [0, 0.04, 0.08, 0.12, 0.16], "format": ".2~f", "labelPadding": 6, "titlePadding": 12}}
                     }},
                    {"data": {"name": "scatI"}, "mark": {"type": "circle", "size": 70, "color": "#000000", "opacity": 1},
                     "encoding": {
                       "x": {"field": "x", "type": "quantitative", "scale": {"domain": [0, 2], "nice": false}, "axis": {"orient": "top", "title": "OLDER", "titleFontWeight": "bold", "domain": false, "ticks": false, "labels": false, "titlePadding": 6}},
                       "y": {"field": "y", "type": "quantitative", "scale": {"domain": [0, 0.16], "nice": false}, "axis": null}
                     }},
                    {"data": {"name": "rI"}, "mark": {"type": "text", "align": "left", "baseline": "middle", "fontSize": 12, "color": "#1a1a1a"},
                     "encoding": {
                       "x": {"field": "x", "type": "quantitative", "scale": {"domain": [0, 2], "nice": false}, "axis": null},
                       "y": {"field": "y", "type": "quantitative", "scale": {"domain": [0, 0.16], "nice": false}, "axis": null},
                       "text": {"field": "label"}
                     }}
                  ]
                },
                {"width": 108, "height": 1, "data": {"name": "none"}, "mark": "point"},
                {
                  "width": 145, "height": 132,
                  "title": {"text": "j", "dx": -82, "dy": 22},
                  "resolve": {"axis": {"x": "independent", "y": "independent"}},
                  "layer": [
                    {"data": {"name": "trendJ"}, "mark": {"type": "line", "strokeDash": [2, 2.5], "strokeWidth": 2.2, "color": "#000000"},
                     "encoding": {
                       "x": {"field": "x", "type": "quantitative", "scale": {"domain": [0, 6], "nice": false}, "axis": {"title": "normalised SOL RMS EMG", "values": [0, 2, 4, 6], "format": ".2~f", "labelPadding": 5, "titlePadding": 4}},
                       "y": {"field": "y", "type": "quantitative", "scale": {"domain": [0, 0.16], "nice": false}, "axis": {"title": ["Ankle plantar flexion", "moment (BWs×mm)"], "values": [0, 0.04, 0.08, 0.12, 0.16], "format": ".2~f", "labelPadding": 5, "titlePadding": 11}}
                     }},
                    {"data": {"name": "scatJ"}, "mark": {"type": "circle", "size": 70, "color": "#000000", "opacity": 1},
                     "encoding": {
                       "x": {"field": "x", "type": "quantitative", "scale": {"domain": [0, 6], "nice": false}, "axis": {"orient": "top", "title": "YOUNG", "titleFontWeight": "bold", "domain": false, "ticks": false, "labels": false, "titlePadding": 6, "titleX": 79}},
                       "y": {"field": "y", "type": "quantitative", "scale": {"domain": [0, 0.16], "nice": false}, "axis": null}
                     }},
                    {"data": {"name": "rJ"}, "mark": {"type": "text", "align": "left", "baseline": "middle", "fontSize": 12, "color": "#1a1a1a"},
                     "encoding": {
                       "x": {"field": "x", "type": "quantitative", "scale": {"domain": [0, 6], "nice": false}, "axis": null},
                       "y": {"field": "y", "type": "quantitative", "scale": {"domain": [0, 0.16], "nice": false}, "axis": null},
                       "text": {"field": "label"}
                     }}
                  ]
                }
              ]
            }
          ]
        }
      ]
    }
  ]
}
